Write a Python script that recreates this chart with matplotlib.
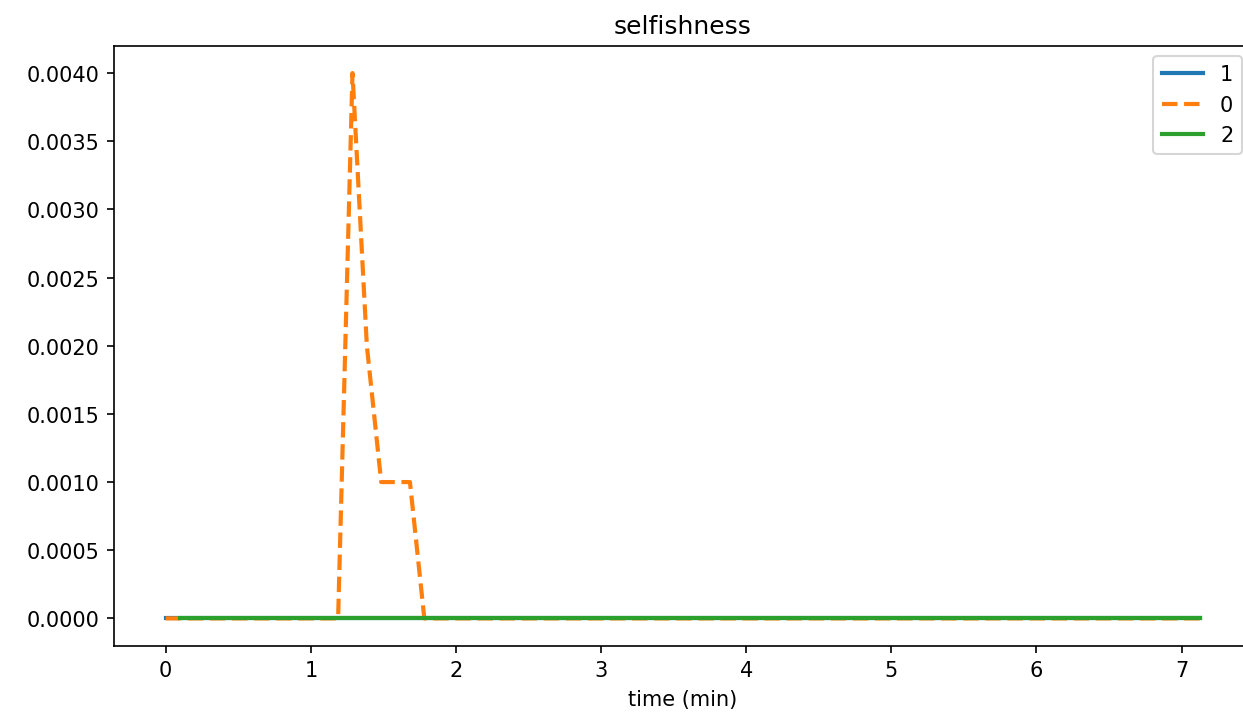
import matplotlib
matplotlib.use('Agg')
import matplotlib.pyplot as plt

time_min = [0.0, 0.099, 0.198, 0.297, 0.396, 0.495, 0.594, 0.693, 0.792, 0.891,
            0.99, 1.089, 1.188, 1.287, 1.386, 1.485, 1.584, 1.683, 1.782, 1.881,
            1.98, 2.079, 2.178, 2.277, 2.376, 2.475, 2.574, 2.673, 2.772, 2.871,
            2.97, 3.069, 3.168, 3.267, 3.366, 3.465, 3.564, 3.663, 3.762, 3.861,
            3.96, 4.059, 4.158, 4.257, 4.356, 4.455, 4.554, 4.653, 4.752, 4.851,
            4.95, 5.049, 5.148, 5.247, 5.346, 5.445, 5.544, 5.643, 5.742, 5.841,
            5.94, 6.039, 6.138, 6.237, 6.336, 6.435, 6.534, 6.633, 6.732, 6.831,
            6.93, 7.029, 7.13]

sel_1 = [0.0] * 73
sel_0 = [0.0] * 13 + [0.004, 0.002, 0.001, 0.001, 0.001] + [0.0] * 55
sel_2 = [0.0] * 72

fig = plt.figure(figsize=(8.287, 4.793), dpi=150)
# the original image is cut off on the right, so the axes runs past the edge
ax = fig.add_axes([0.0917, 0.1006, 1.0073 - 0.0917, 0.935 - 0.1006])

ax.plot(time_min, sel_1, lw=2, label='1')
ax.plot(time_min, sel_0, '--', lw=2, label='0')
ax.plot(time_min[1:], sel_2, lw=2, label='2')

ax.set_title('selfishness')
ax.set_xlabel('time (min)')
ax.legend(loc='upper right')

fig.savefig('out.png')
